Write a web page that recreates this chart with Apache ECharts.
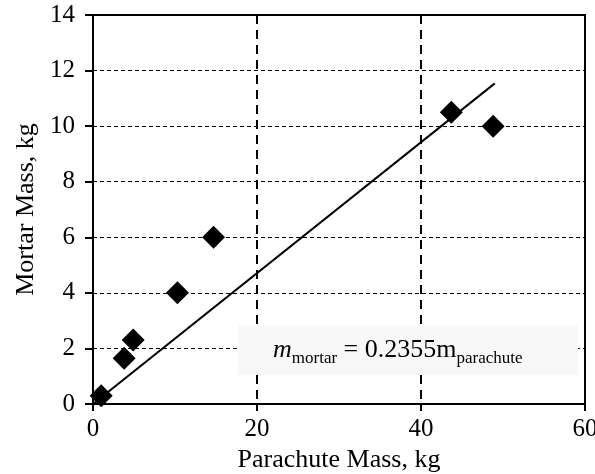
<!DOCTYPE html>
<html>
<head>
<meta charset="utf-8">
<style>html,body{margin:0;padding:0;background:#fff;}#c{width:595px;height:474px;}</style>
<script src="https://cdn.jsdelivr.net/npm/echarts@6/dist/echarts.min.js"></script>
</head>
<body>
<div id="c"></div>
<script>
var parachuteMass = [1.0, 3.8, 4.9, 10.3, 14.7, 43.7, 48.8];
var mortarMass = [0.3, 1.65, 2.3, 4.0, 6.0, 10.5, 10.0];
var fitX = [0, 49];
var fitY = [0, 11.54];
var xTicks = [0, 20, 40, 60];
var yTicks = [0, 2, 4, 6, 8, 10, 12, 14];
var xTitle = 'Parachute Mass, kg';
var yTitle = 'Mortar Mass, kg';

var FONT = '"Liberation Serif", "Times New Roman", serif';
var chart = echarts.init(document.getElementById('c'), null, {renderer: 'canvas'});
var pts = parachuteMass.map(function (x, i) { return [x, mortarMass[i]]; });
var fit = fitX.map(function (x, i) { return [x, fitY[i]]; });

chart.setOption({
  animation: false,
  backgroundColor: '#fff',
  grid: {left: 93, right: 10, top: 15, bottom: 70, outerBoundsMode: 'none', containLabel: false,
         show: true, borderColor: '#000', borderWidth: 2, backgroundColor: 'transparent'},
  xAxis: {
    type: 'value', min: xTicks[0], max: xTicks[xTicks.length - 1], interval: 20,
    name: xTitle, nameLocation: 'middle', nameGap: 42,
    nameTextStyle: {fontFamily: FONT, fontSize: 26, color: '#000'},
    axisLine: {show: true, onZero: false, lineStyle: {color: '#000', width: 2}},
    axisTick: {show: true, inside: false, length: 7, lineStyle: {color: '#000', width: 2}},
    axisLabel: {fontFamily: FONT, fontSize: 25, color: '#000', margin: 13},
    splitLine: {show: true, lineStyle: {color: '#000', width: 2, type: [9, 6]}}
  },
  yAxis: {
    type: 'value', min: yTicks[0], max: yTicks[yTicks.length - 1], interval: 2,
    name: yTitle, nameLocation: 'middle', nameGap: 54,
    nameTextStyle: {fontFamily: FONT, fontSize: 26, color: '#000'},
    axisLine: {show: true, onZero: false, lineStyle: {color: '#000', width: 2}},
    axisTick: {show: true, inside: false, length: 8, lineStyle: {color: '#000', width: 2}},
    axisLabel: {fontFamily: FONT, fontSize: 25, color: '#000', margin: 18},
    splitLine: {show: true, lineStyle: {color: '#000', width: 1, type: [4, 3]}}
  },
  graphic: [
    {type: 'rect', left: 238, top: 325, z: 100, shape: {width: 340, height: 50}, style: {fill: '#f8f8f8'}},
    {type: 'text', left: 273, top: 337, z: 101, style: {
      text: '{m|m}{s|mortar}{n| = 0.2355m}{s|parachute}',
      rich: {
        m: {fontFamily: FONT, fontStyle: 'italic', fontSize: 26, fill: '#000', verticalAlign: 'middle'},
        n: {fontFamily: FONT, fontSize: 26, fill: '#000', verticalAlign: 'middle'},
        s: {fontFamily: FONT, fontSize: 17, fill: '#000', verticalAlign: 'middle', padding: [17, 0, 0, 0]}
      }
    }}
  ],
  series: [
    {type: 'line', data: fit, showSymbol: false, symbol: 'none', lineStyle: {color: '#000', width: 2}, z: 3},
    {type: 'scatter', data: pts, symbol: 'diamond', symbolSize: 23, itemStyle: {color: '#000', opacity: 1}, z: 4}
  ]
});
</script>
</body>
</html>
